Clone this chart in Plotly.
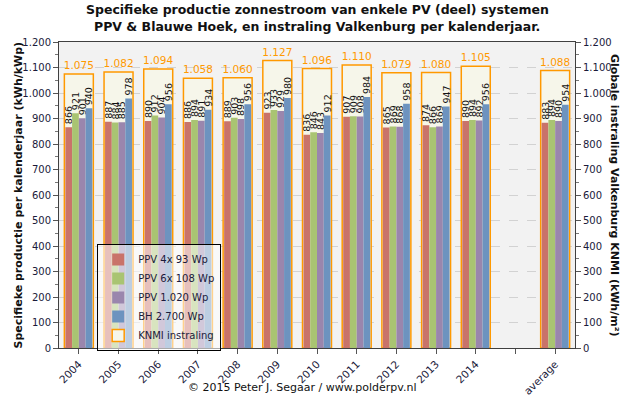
import plotly.graph_objects as go

categories = ["2004", "2005", "2006", "2007", "2008", "2009", "2010", "2011",
              "2012", "2013", "2014", " ", "average"]
ppv_4x93 = [866, 887, 890, 886, 889, 923, 836, 907, 865, 874, 890, None, 883]
ppv_6x108 = [921, 884, 912, 894, 903, 933, 846, 909, 869, 866, 894, None, 894]
ppv_1020 = [901, 885, 904, 891, 898, 929, 843, 908, 868, 869, 892, None, 890]
bh_2700 = [940, 978, 956, 934, 956, 980, 912, 984, 958, 947, 956, None, 954]
knmi = [1075, 1082, 1094, 1058, 1060, 1127, 1096, 1110, 1079, 1080, 1105, None, 1088]

series = [
    ("PPV 4x 93 Wp", ppv_4x93, "#c9736a"),
    ("PPV 6x 108 Wp", ppv_6x108, "#a9c472"),
    ("PPV 1.020 Wp", ppv_1020, "#9a86ad"),
    ("BH 2.700 Wp", bh_2700, "#6d93bf"),
]

def nl(v):
    return "" if v is None else f"{v:,}".replace(",", ".")

FONT = "DejaVu Sans"
TXT = "#1a1a3a"

fig = go.Figure()

# KNMI irradiation (drawn first, behind the production bars)
fig.add_trace(go.Bar(
    x=categories, y=knmi, name="KNMI instraling",
    yaxis="y", width=0.73, offset=-0.365,
    marker=dict(color="#f6f6ea", line=dict(color="#ff9900", width=1.5)),
    text=[nl(v) for v in knmi], textposition="outside",
    textfont=dict(color="#ff9900", size=10.5, family=FONT),
    constraintext="none", cliponaxis=False, legendrank=5,
))

bw = 0.17
for i, (name, vals, col) in enumerate(series):
    fig.add_trace(go.Bar(
        x=categories, y=vals, name=name, yaxis="y2",
        width=bw, offset=-0.34 + i * bw,
        marker=dict(color=col, line=dict(width=0)),
        text=[nl(v) for v in vals], textposition="outside", textangle=-90,
        textfont=dict(color="#111111", size=9.5, family=FONT),
        constraintext="none", cliponaxis=False, legendrank=i + 1,
    ))

tickvals = list(range(0, 1201, 100))
ticktext = [nl(v) for v in tickvals]

fig.update_layout(
    width=631, height=398,
    margin=dict(l=59, r=56, t=42, b=50, autoexpand=False),
    paper_bgcolor="white", plot_bgcolor="#f2f2f2",
    barmode="overlay",
    font=dict(family=FONT, size=10, color=TXT),
    xaxis=dict(
        type="category", categoryorder="array", categoryarray=categories,
        tickangle=-45, ticks="outside", ticklen=5, automargin=False,
        tickcolor="#555555", showline=True, linecolor="#404040", mirror=True,
        showgrid=False, tickfont=dict(size=10.5, color=TXT),
    ),
    yaxis=dict(
        side="right", range=[0, 1200], tickvals=tickvals, ticktext=ticktext,
        ticks="outside", ticklen=5, tickcolor="#555555", automargin=False,
        minor=dict(dtick=50, ticks="outside", ticklen=3, tickcolor="#777777"),
        showline=True, linecolor="#404040",
        showgrid=True, gridcolor="#d2d2d2", griddash="dash", gridwidth=1,
        zeroline=False, tickfont=dict(size=10, color=TXT),
    ),
    yaxis2=dict(
        side="left", overlaying="y", range=[0, 1200],
        tickvals=tickvals, ticktext=ticktext, automargin=False,
        ticks="outside", ticklen=5, tickcolor="#555555",
        minor=dict(dtick=50, ticks="outside", ticklen=3, tickcolor="#777777"),
        showline=True, linecolor="#404040", showgrid=False, zeroline=False,
        tickfont=dict(size=10, color=TXT),
    ),
    legend=dict(
        x=0.074, y=0.34, xanchor="left", yanchor="top",
        bgcolor="rgba(255,255,255,0.55)", bordercolor="#000000", borderwidth=1,
        font=dict(size=10, color=TXT), itemwidth=30,
        tracegroupgap=0, traceorder="normal",
    ),
    showlegend=True,
    annotations=[
        dict(text="<b>Specifieke productie zonnestroom van enkele PV (deel) systemen</b>",
             xref="paper", yref="paper", x=0.5, y=1.105, yanchor="middle",
             showarrow=False, font=dict(size=12.5, color="#111111")),
        dict(text="<b>PPV &amp; Blauwe Hoek, en instraling Valkenburg per kalenderjaar.</b>",
             xref="paper", yref="paper", x=0.5, y=1.052, yanchor="middle",
             showarrow=False, font=dict(size=12.5, color="#111111")),
        dict(text="<b>Specifieke productie per kalenderjaar (kWh/kWp)</b>",
             xref="paper", yref="paper", x=-0.095, y=0.5, textangle=-90,
             showarrow=False, font=dict(size=11, color="#111111")),
        dict(text="<b>Globale instraling Valkenburg KNMI (kWh/m²)</b>",
             xref="paper", yref="paper", x=1.094, y=0.5, textangle=90,
             showarrow=False, font=dict(size=11, color="#111111")),
        dict(text="© 2015 Peter J. Segaar / www.polderpv.nl",
             xref="paper", yref="paper", x=0.47, y=-0.13, yanchor="middle",
             showarrow=False, font=dict(size=11, color="#111111")),
    ],
)

fig.write_html(
    "out.html",
    config={"displayModeBar": False},
    post_script="document.body.style.margin='0';document.body.style.padding='0';",
)
